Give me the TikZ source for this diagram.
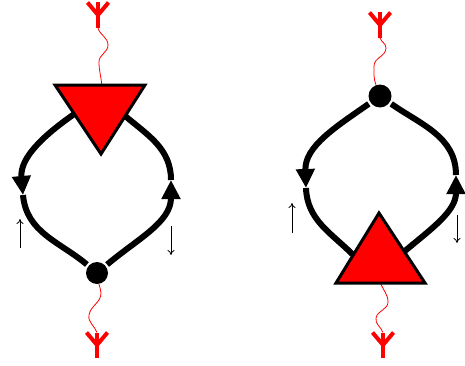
\documentclass[tikz,border=0pt]{standalone}
\usetikzlibrary{arrows.meta,calc}

\begin{document}
\begin{tikzpicture}[x=10pt,y=10pt,
    loopline/.style={line width=6pt},
    flow/.style={-{Triangle[length=19pt,width=18pt]}},
    mom/.style={-{To[length=5pt,width=7pt]},line width=0.8pt},
    wavy/.style={red,line width=0.8pt},
    antline/.style={red,line width=4pt},
    vertex/.style={fill=red,draw=black,line width=3pt,line join=miter},
    vdot/.style={circle,fill=black,inner sep=0pt,minimum size=#1},
    antenna/.pic={
        \draw[antline] (-1.05,1.25) -- (0,0) -- (1.05,1.25);
        \draw[antline] (0,-1.3) -- (0,1.25);
        \coordinate (-foot) at (0,-1.3);
        \coordinate (-top) at (0,1.25);
    }]
    \useasboundingbox (0,0) rectangle (46.5,36.5);
    % Left graph: triangle on top, dot below
    \coordinate (t1a) at (5.5,28.0);
    \coordinate (t1b) at (14.5,28.0);
    \coordinate (t1c) at (10.1,21.1);
    \coordinate (t1l) at ($(t1a)!0.42!(t1c)$);
    \coordinate (t1r) at ($(t1b)!0.45!(t1c)$);
    \coordinate (t1n) at ($(t1a)!0.52!(t1b)$);
    \node[vdot=22pt] (d1) at (9.7,9.2) {};
    \coordinate (m1l) at (2.3,17.0);
    \coordinate (m1r) at (17.1,18.5);
    \draw[loopline,flow,shorten <=1pt] (t1l) to[out=215,in=95] (m1l);
    \draw[loopline,shorten >=2pt] (m1l) to[out=-85,in=140] (d1);
    \draw[loopline,flow,shorten <=2pt] (d1) to[out=40,in=-90] (m1r);
    \draw[loopline,shorten >=1pt] (m1r) to[out=90,in=-40] (t1r);
    \pic (a1) at (9.8,35.0) {antenna};
    \pic (a2) at (9.7,2.0) {antenna};
    \draw[wavy] (a1-foot) to[out=-75,in=90] (10.8,32.0) to[out=-90,in=90] (9.9,30.3) to[out=-90,in=95] (t1n);
    \draw[wavy] (d1) to[out=-80,in=90] (10.1,7.2) to[out=-90,in=80] (8.9,5.0) to[out=-100,in=110] (a2-top);
    \draw[vertex] (t1a) -- (t1b) -- (t1c) -- cycle;
    \draw[mom] (2.0,11.7) -- (2.0,14.6);
    \draw[mom] (17.1,13.9) -- (17.1,11.0);

    % Right graph: dot on top, triangle below
    \coordinate (t2a) at (33.6,8.2);
    \coordinate (t2b) at (42.5,8.2);
    \coordinate (t2c) at (37.9,15.2);
    \coordinate (t2l) at ($(t2a)!0.4!(t2c)$);
    \coordinate (t2r) at ($(t2b)!0.45!(t2c)$);
    \coordinate (t2s) at ($(t2a)!0.5!(t2b)$);
    \node[vdot=23pt] (d2) at (38.0,26.9) {};
    \coordinate (m2l) at (30.6,17.7);
    \coordinate (m2r) at (45.6,19.0);
    \draw[loopline,flow,shorten <=2pt] (d2) to[out=215,in=92] (m2l);
    \draw[loopline,shorten >=1pt] (m2l) to[out=-88,in=135] (t2l);
    \draw[loopline,flow,shorten <=1pt] (t2r) to[out=40,in=-90] (m2r);
    \draw[loopline,shorten >=2pt] (m2r) to[out=90,in=-35] (d2);
    \pic (a3) at (38.0,34.0) {antenna};
    \pic (a4) at (38.3,2.0) {antenna};
    \draw[wavy] (a3-foot) to[out=-70,in=90] (38.6,31.7) to[out=-90,in=90] (37.4,29.9) to[out=-90,in=110] (d2);
    \draw[wavy] (t2s) to[out=-70,in=90] (38.8,6.3) to[out=-90,in=80] (37.6,4.7) to[out=-100,in=110] (a4-top);
    \draw[vertex] (t2a) -- (t2b) -- (t2c) -- cycle;
    \draw[mom] (29.2,13.2) -- (29.2,16.2);
    \draw[mom] (45.7,15.0) -- (45.7,12.2);
\end{tikzpicture}
\end{document}
